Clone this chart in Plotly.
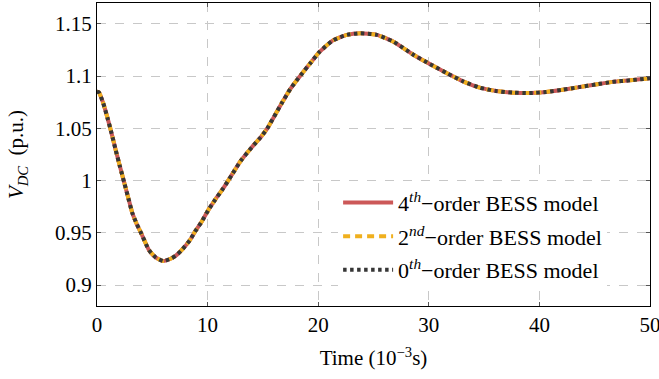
import plotly.graph_objects as go

time_ms = [0, 0.18, 0.57, 0.96, 1.32, 1.69, 2.08, 2.47, 2.83, 3.19, 3.59, 4.0, 4.7, 5.3,
           6.0, 6.7, 7.1, 7.65, 8.4, 8.85, 9.46, 10.06, 10.66, 11.41, 12.17, 13.0, 14.0, 14.8,
           15.4, 16.0, 16.7, 17.5, 18.4, 19.3, 20.1, 21.3, 22.6, 23.8, 25.3, 26.8, 28.6,
           30.1, 31.6, 33.1, 34.6, 36.1, 37.6, 39.1, 40.6, 42.1, 43.6, 45.1, 46.6, 48.2, 50]
vdc = [1.085, 1.0844, 1.0739, 1.0596, 1.0452, 1.0293, 1.0133, 0.9978, 0.9834, 0.9691, 0.9585,
       0.9495, 0.9335, 0.9265, 0.923, 0.9255, 0.928, 0.9334, 0.943, 0.951, 0.9606, 0.9718,
       0.9814, 0.9925, 1.0052, 1.019, 1.032, 1.0415, 1.05, 1.061, 1.074, 1.088, 1.1007,
       1.1125, 1.123, 1.134, 1.1395, 1.141, 1.1395, 1.133, 1.1205, 1.1115, 1.103, 1.095,
       1.089, 1.0857, 1.0842, 1.0838, 1.0848, 1.087, 1.0895, 1.092, 1.0945, 1.096, 1.098]

series_names = ["4<sup><i>th</i></sup>\u2212order BESS model",
                "2<sup><i>nd</i></sup>\u2212order BESS model",
                "0<sup><i>th</i></sup>\u2212order BESS model"]
series_colors = ["#cc5858", "#f0b01e", "#363636"]
series_dash = ["solid", "7px,5px", "3.5px,3.5px"]

x_ticks = [0, 10, 20, 30, 40, 50]
y_ticks = [0.9, 0.95, 1.0, 1.05, 1.1, 1.15]
y_ticktext = ["0.9", "0.95", "1", "1.05", "1.1", "1.15"]

FONT = "Liberation Serif, Times New Roman, serif"

fig = go.Figure()
for i, (name, col, dash) in enumerate(zip(series_names, series_colors, series_dash)):
    fig.add_trace(go.Scatter(x=time_ms, y=vdc, mode="lines", name=name,
                             legendgroup=f"g{i}",
                             line=dict(color=col, width=4, dash=dash, shape="spline", smoothing=0.5)))

axis_common = dict(showline=True, linecolor="black", linewidth=1, mirror="allticks",
                   ticks="inside", ticklen=4, tickcolor="#555",
                   showgrid=True, gridcolor="#c8c8c8", griddash="dash", gridwidth=1,
                   zeroline=False, automargin=False, ticklabeloverflow="allow",
                   tickfont=dict(family=FONT, size=21, color="black"))

fig.update_xaxes(range=[0, 50], tickvals=x_ticks,
                 title=dict(text="Time (10<sup>\u22123</sup>s)",
                            font=dict(family=FONT, size=21, color="black"), standoff=14),
                 **axis_common)
fig.update_yaxes(range=[0.88, 1.17], tickvals=y_ticks, ticktext=y_ticktext,
                 title=dict(text="<i>V<sub>DC</sub></i>  (p.u.)",
                            font=dict(family=FONT, size=21, color="black"), standoff=25),
                 **axis_common)

fig.update_layout(
    width=659, height=379,
    margin=dict(l=97, r=9, t=3, b=73),
    plot_bgcolor="white", paper_bgcolor="white",
    font=dict(family=FONT, size=21, color="black"),
    legend=dict(x=0.436, y=0.41, xanchor="left", yanchor="top",
                bgcolor="white", borderwidth=0, traceorder="grouped", tracegroupgap=2,
                itemwidth=50,
                font=dict(family=FONT, size=22, color="black")),
)

fig.write_html("out.html", config={"displayModeBar": False},
               post_script="document.body.style.margin='0';")
